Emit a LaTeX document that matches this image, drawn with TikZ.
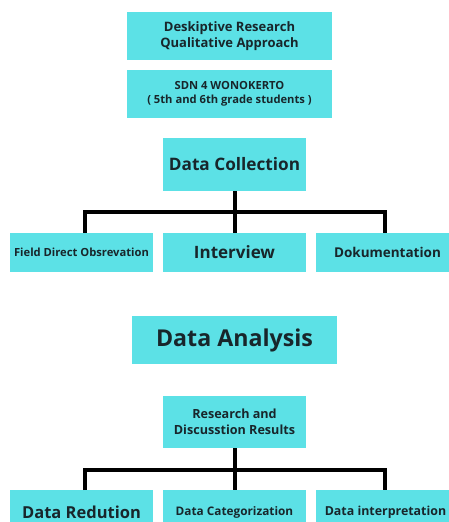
\documentclass[tikz,border=0pt]{standalone}
\usepackage{fontspec}
\setmainfont{Open Sans}
\definecolor{boxcyan}{HTML}{5CE1E6}
\definecolor{ink}{HTML}{18262B}
\newcommand{\fs}[1]{\fontsize{#1}{1.25\dimexpr#1pt\relax}\selectfont}

\begin{document}
\begin{tikzpicture}[x=1pt, y=-1pt,
    box/.style={fill=boxcyan, text=ink, align=center, inner sep=0pt, font=\bfseries},
    bar/.style={line width=4pt, black}]
    \useasboundingbox (0,0) rectangle (449,522);
    \clip (0,0) rectangle (449,522);

    % top of the flow
    \node[box, minimum width=205, minimum height=48, font=\bfseries\fs{13}] (desk) at (229.5,36) {Deskiptive Research\\Qualitative Approach};
    \node[box, minimum width=205, minimum height=48, font=\bfseries\fs{11.2}] (school) at (229.5,94) {SDN 4 WONOKERTO\\( 5th and 6th grade students )};

    % data collection
    \node[box, minimum width=143, minimum height=53, font=\bfseries\fs{17.2}] (collect) at (234.5,164.5) {Data Collection};
    \node[box, minimum width=143, minimum height=39, font=\bfseries\fs{11.2}] (field) at (81.5,252.5) {Field Direct Obsrevation};
    \node[box, minimum width=143, minimum height=39, font=\bfseries\fs{17}] (interview) at (234.5,252.5) {Interview};
    \node[box, minimum width=143, minimum height=39, font=\bfseries\fs{13.5}] (dokum) at (387.5,252.5) {Dokumentation};
    \coordinate (split1) at (234.5,212);

    % data analysis
    \node[box, minimum width=205, minimum height=48, font=\bfseries\fs{23.2}] (analysis) at (234.5,340) {Data Analysis};
    \node[box, minimum width=143, minimum height=52, font=\bfseries\fs{12.6}] (results) at (234.5,422) {Research and\\Discusstion Results};
    \node[box, minimum width=143, minimum height=44, anchor=north, font=\bfseries\fs{16.5}] (reduce) at (81.5,490) {Data Redution};
    \node[box, minimum width=143, minimum height=44, anchor=north, font=\bfseries\fs{11.8}] (categ) at (234.5,490) {Data Categorization};
    \node[box, minimum width=143, minimum height=44, anchor=north, font=\bfseries\fs{12.4}] (interp) at (387.5,490) {\hspace*{-4pt}Data interpretation};
    \coordinate (split2) at (234.5,470);

    \draw[bar] (collect.south) -- (interview.north);
    \draw[bar] ([xshift=3.5pt]field.north) |- (split1) -| ([xshift=-2.5pt]dokum.north);
    \draw[bar] (results.south) -- (categ.north);
    \draw[bar] ([xshift=3.5pt]reduce.north) |- (split2) -| ([xshift=-2.5pt]interp.north);
\end{tikzpicture}
\end{document}
